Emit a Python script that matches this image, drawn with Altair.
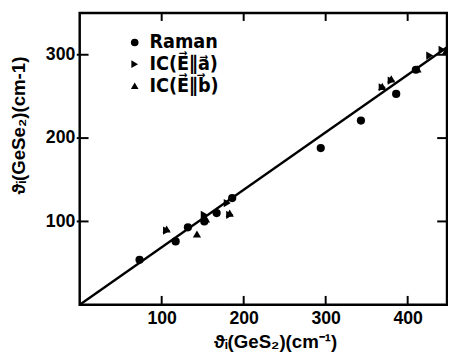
import altair as alt
import pandas as pd

# ---- data ----
raman_x = [73, 117, 132, 152, 167, 186, 294, 343, 386, 410]
raman_y = [54, 76, 93, 100, 110, 128, 188, 221, 253, 282]

ica_x = [106, 152, 180, 183, 369, 380, 427, 442]
ica_y = [89, 108, 122, 108, 261, 269, 299, 306]

icb_x = [106, 143, 154, 183, 369, 380, 412, 447]
icb_y = [91, 85, 103, 110, 262, 271, 283, 305]

series_names = ["Raman", "IC(E\u20d7\u2225a\u20d7)", "IC(E\u20d7\u2225b\u20d7)"]
series_shapes = ["circle", "triangle-right", "triangle-up"]

line_x = [0, 448]
line_y = [0, 309]

x_ticks = [100, 200, 300, 400]
y_ticks = [100, 200, 300]

X_DOMAIN = [0, 448]
Y_DOMAIN = [0, 350]
W, H = 374, 297
FONT = "Liberation Sans"
LFONT = "DejaVu Sans Condensed"

rows = []
for name, xs, ys in zip(series_names, [raman_x, ica_x, icb_x], [raman_y, ica_y, icb_y]):
    for a, b in zip(xs, ys):
        rows.append({"x": a, "y": b, "series": name})
pts = pd.DataFrame(rows)

xs = alt.Scale(domain=X_DOMAIN, nice=False, zero=False)
ys = alt.Scale(domain=Y_DOMAIN, nice=False, zero=False)

x_axis = alt.Axis(values=x_ticks, ticks=False, domain=False, grid=False,
                  labelFont=FONT, labelFontSize=18, labelFontWeight="bold",
                  labelColor="black", labelPadding=5,
                  title="\u03d1\u1d62(GeS\u2082)(cm\u207b\u00b9)", titleFont=FONT,
                  titleFontSize=19, titleFontWeight="bold", titleColor="black",
                  titleX=199, titleY=28, titleBaseline="top")
y_axis = alt.Axis(values=y_ticks, ticks=False, domain=False, grid=False,
                  labelFont=FONT, labelFontSize=18, labelFontWeight="bold",
                  labelColor="black", labelPadding=5,
                  title="\u03d1\u1d62(GeSe\u2082)(cm-1)", titleFont=FONT,
                  titleFontSize=19, titleFontWeight="bold", titleColor="black",
                  titleX=-62, titleY=114, titleAlign="center",
                  titleBaseline="middle", titleAngle=270)

points = alt.Chart(pts).mark_point(filled=True, size=70, opacity=1, color="black").encode(
    x=alt.X("x:Q", scale=xs, axis=x_axis),
    y=alt.Y("y:Q", scale=ys, axis=y_axis),
    shape=alt.Shape("series:N",
                    scale=alt.Scale(domain=series_names, range=series_shapes),
                    legend=alt.Legend(title=None, orient="none", legendX=46, legendY=20,
                                      labelFont=LFONT, labelFontSize=20,
                                      labelFontWeight="bold", labelColor="black",
                                      symbolFillColor="black", symbolStrokeColor="black",
                                      symbolSize=60, labelOffset=5, rowPadding=2,
                                      symbolStrokeWidth=0)),
)

line = alt.Chart(pd.DataFrame({"x": line_x, "y": line_y})).mark_line(
    color="black", strokeWidth=2.4, clip=True).encode(
    x=alt.X("x:Q", scale=xs), y=alt.Y("y:Q", scale=ys))

xt = pd.DataFrame({"v": x_ticks})
yt = pd.DataFrame({"v": y_ticks})
bottom_ticks = alt.Chart(xt).mark_rule(color="black", strokeWidth=2).encode(
    x=alt.X("v:Q", scale=xs), y=alt.value(H), y2=alt.value(H - 9))
top_ticks = alt.Chart(xt).mark_rule(color="black", strokeWidth=2).encode(
    x=alt.X("v:Q", scale=xs), y=alt.value(0), y2=alt.value(8))
left_ticks = alt.Chart(yt).mark_rule(color="black", strokeWidth=2).encode(
    y=alt.Y("v:Q", scale=ys), x=alt.value(-3), x2=alt.value(9))
right_ticks = alt.Chart(yt).mark_rule(color="black", strokeWidth=2).encode(
    y=alt.Y("v:Q", scale=ys), x=alt.value(W - 10), x2=alt.value(W))

chart = alt.layer(line, bottom_ticks, top_ticks, left_ticks, right_ticks, points).properties(
    width=W, height=H,
    autosize="none",
    padding={"left": 73, "top": 2, "right": 1, "bottom": 50},
    background="white",
).configure_view(stroke="black", strokeWidth=2.5)

chart.save("out.html", embed_options={"renderer": "svg", "actions": False})
